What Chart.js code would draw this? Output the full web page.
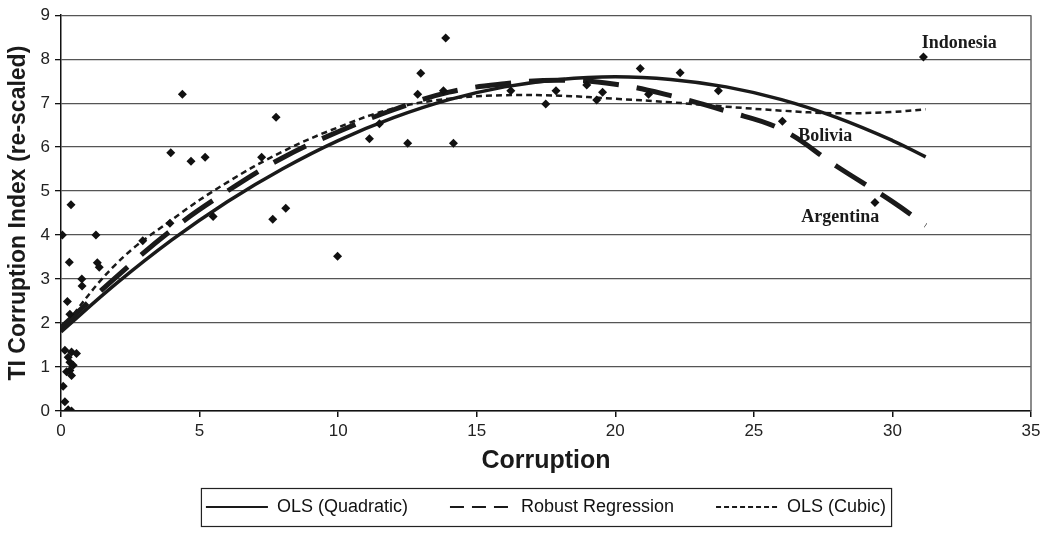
<!DOCTYPE html>
<html>
<head>
<meta charset="utf-8">
<script src="https://cdn.jsdelivr.net/npm/chart.js@4.4.1/dist/chart.umd.min.js"></script>
<style>
  html, body { margin: 0; padding: 0; background: #fff; }
</style>
</head>
<body>
<canvas id="js-chart" width="1047" height="533"></canvas>
<script>
const FONT = "'Liberation Sans', Arial, sans-serif";

// country scatter (corruption, TI index re-scaled)
const countryX = [
  0.05, 0.36, 0.3, 0.23, 0.32, 0.14, 0.38, 0.56, 0.26, 0.32, 0.44, 0.32, 0.2, 0.38, 0.08, 0.14, 0.38, 0.26,
  0.75, 0.76, 1.26, 1.31, 1.38, 2.95, 3.93, 3.96, 4.38, 4.69, 5.2, 5.49, 7.24, 7.64, 7.76, 8.11, 9.98,
  11.13, 11.49, 12.51, 12.87, 12.98, 13.8, 13.88, 14.16, 16.23, 17.49, 17.86, 18.97, 19.33, 19.54,
  20.9, 21.2, 22.34, 23.72, 26.03, 29.37, 31.12
];
const countryY = [
  4.0, 4.69, 3.38, 2.49, 2.2, 1.38, 1.34, 1.31, 1.22, 1.11, 1.04, 0.92, 0.89, 0.81, 0.56, 0.21, 0.0, 0.03,
  3.0, 2.84, 4.0, 3.37, 3.27, 3.87, 4.27, 5.87, 7.2, 5.68, 5.77, 4.42, 5.77, 4.36, 6.68, 4.61, 3.52,
  6.19, 6.53, 6.09, 7.2, 7.68, 7.28, 8.48, 6.09, 7.28, 6.98, 7.28, 7.41, 7.07, 7.25,
  7.79, 7.2, 7.69, 7.28, 6.59, 4.74, 8.05
];

const curveX = [0, 2, 4, 6, 8, 10, 12, 14, 16, 18, 20, 22, 24, 26, 28, 30, 31.2];
const olsQuadratic = [1.8, 2.9, 3.89, 4.76, 5.51, 6.15, 6.67, 7.08, 7.37, 7.54, 7.6, 7.54, 7.37, 7.08, 6.67, 6.15, 5.78];
const robustRegression = [1.9, 3.05, 4.12, 5.0, 5.76, 6.35, 6.85, 7.25, 7.44, 7.52, 7.43, 7.17, 6.82, 6.4, 5.56, 4.76, 4.22];
const olsCubic = [1.85, 3.35, 4.35, 5.2, 5.9, 6.45, 6.88, 7.1, 7.18, 7.17, 7.1, 7.02, 6.92, 6.83, 6.77, 6.8, 6.86];

// named countries
const labelNames = ["Indonesia", "Bolivia", "Argentina"];
const labelX = [32.41, 27.58, 28.12];
const labelY = [8.36, 6.25, 4.41];

function toPoints(xs, ys) {
  return xs.map((x, i) => ({ x: x, y: ys[i] }));
}

const frameAndLabels = {
  id: "frameAndLabels",
  beforeDatasetsDraw(chart) {
    const { ctx, chartArea } = chart;
    ctx.save();
    ctx.strokeStyle = "#666";
    ctx.lineWidth = 1.5;
    ctx.beginPath();
    ctx.moveTo(chartArea.right, chartArea.top);
    ctx.lineTo(chartArea.right, chartArea.bottom);
    ctx.stroke();
    ctx.restore();
  },
  afterDatasetsDraw(chart) {
    const { ctx, scales } = chart;
    ctx.save();
    ctx.fillStyle = "#1a1a1a";
    ctx.font = "bold 18px 'Liberation Serif', 'Times New Roman', serif";
    ctx.textAlign = "center";
    ctx.textBaseline = "middle";
    labelNames.forEach((name, i) => {
      ctx.fillText(name, scales.x.getPixelForValue(labelX[i]), scales.y.getPixelForValue(labelY[i]));
    });
    ctx.restore();
  },
  afterDraw(chart) {
    const boxes = chart.legend.legendHitBoxes;
    if (!boxes || !boxes.length) return;
    const ctx = chart.ctx;
    const left = Math.min(...boxes.map((b) => b.left)) - 5;
    const right = Math.max(...boxes.map((b) => b.left + b.width)) + 5;
    const top = boxes[0].top - 10;
    const bottom = boxes[0].top + boxes[0].height + 10;
    ctx.save();
    ctx.strokeStyle = "#222";
    ctx.lineWidth = 1.2;
    ctx.strokeRect(left + 0.5, top + 0.5, right - left, bottom - top);
    ctx.restore();
  },
};

const context = document.getElementById("js-chart").getContext("2d");

const corruptionChart = new Chart(context, {
  type: "scatter",
  data: {
    datasets: [
      {
        label: "Countries",
        data: toPoints(countryX, countryY),
        pointStyle: "rectRot",
        pointRadius: 4.5,
        backgroundColor: "#111",
        borderColor: "#111",
        borderWidth: 0,
        order: 0,
      },
      {
        label: "OLS (Quadratic)",
        data: toPoints(curveX, olsQuadratic),
        showLine: true,
        tension: 0.4,
        pointRadius: 0,
        borderColor: "#1a1a1a",
        borderWidth: 3.5,
        legendDash: [],
        legendWidth: 2,
        order: 1,
      },
      {
        label: "Robust Regression",
        data: toPoints(curveX, robustRegression),
        showLine: true,
        tension: 0.4,
        pointRadius: 0,
        borderColor: "#1a1a1a",
        borderWidth: 5,
        borderDash: [36, 18],
        legendDash: [14, 8],
        legendWidth: 2,
        order: 2,
      },
      {
        label: "OLS (Cubic)",
        data: toPoints(curveX, olsCubic),
        showLine: true,
        tension: 0.4,
        pointRadius: 0,
        borderColor: "#1a1a1a",
        borderWidth: 2.5,
        borderDash: [6, 4],
        legendDash: [5, 3],
        legendWidth: 2,
        order: 3,
      },
    ],
  },
  options: {
    responsive: false,
    animation: false,
    layout: { padding: { left: 0, right: 16, top: 12, bottom: 7 } },
    plugins: {
      tooltip: { enabled: false },
      legend: {
        position: "bottom",
        fullSize: false,
        labels: {
          usePointStyle: true,
          pointStyle: "line",
          pointStyleWidth: 62,
          boxHeight: 18,
          padding: 42,
          color: "#111",
          font: { family: FONT, size: 18 },
          filter: (item) => item.datasetIndex > 0,
          generateLabels(chart) {
            const items = Chart.defaults.plugins.legend.labels.generateLabels(chart);
            return items.map((item) => {
              const ds = chart.data.datasets[item.datasetIndex];
              if (ds.legendDash) item.lineDash = ds.legendDash;
              if (ds.legendWidth) item.lineWidth = ds.legendWidth;
              return item;
            });
          },
        },
      },
    },
    scales: {
      x: {
        type: "linear",
        min: 0,
        max: 35,
        afterFit(scale) {
          scale.height = 45;
        },
        ticks: { stepSize: 5, color: "#222", padding: 4, font: { family: FONT, size: 17 } },
        grid: { drawOnChartArea: false, drawTicks: true, tickLength: 6, color: "#111", lineWidth: 1.5 },
        border: { color: "#111", width: 1.5 },
        title: {
          display: true,
          text: "Corruption",
          color: "#1a1a1a",
          font: { family: FONT, size: 25, weight: "bold" },
          padding: { top: 0, bottom: -20 },
        },
      },
      y: {
        min: 0,
        max: 9,
        afterFit(scale) {
          scale.width = 61;
        },
        ticks: { stepSize: 1, color: "#222", padding: 5, font: { family: FONT, size: 17 } },
        grid: { color: "#555", lineWidth: 1.3, tickLength: 6, tickColor: "#111" },
        border: { color: "#111", width: 1.5 },
        title: {
          display: true,
          text: "TI Corruption Index (re-scaled)",
          color: "#1a1a1a",
          font: { family: FONT, size: 23, weight: "bold" },
          padding: { top: 5, bottom: 0 },
        },
      },
    },
  },
  plugins: [frameAndLabels],
});
</script>
</body>
</html>
